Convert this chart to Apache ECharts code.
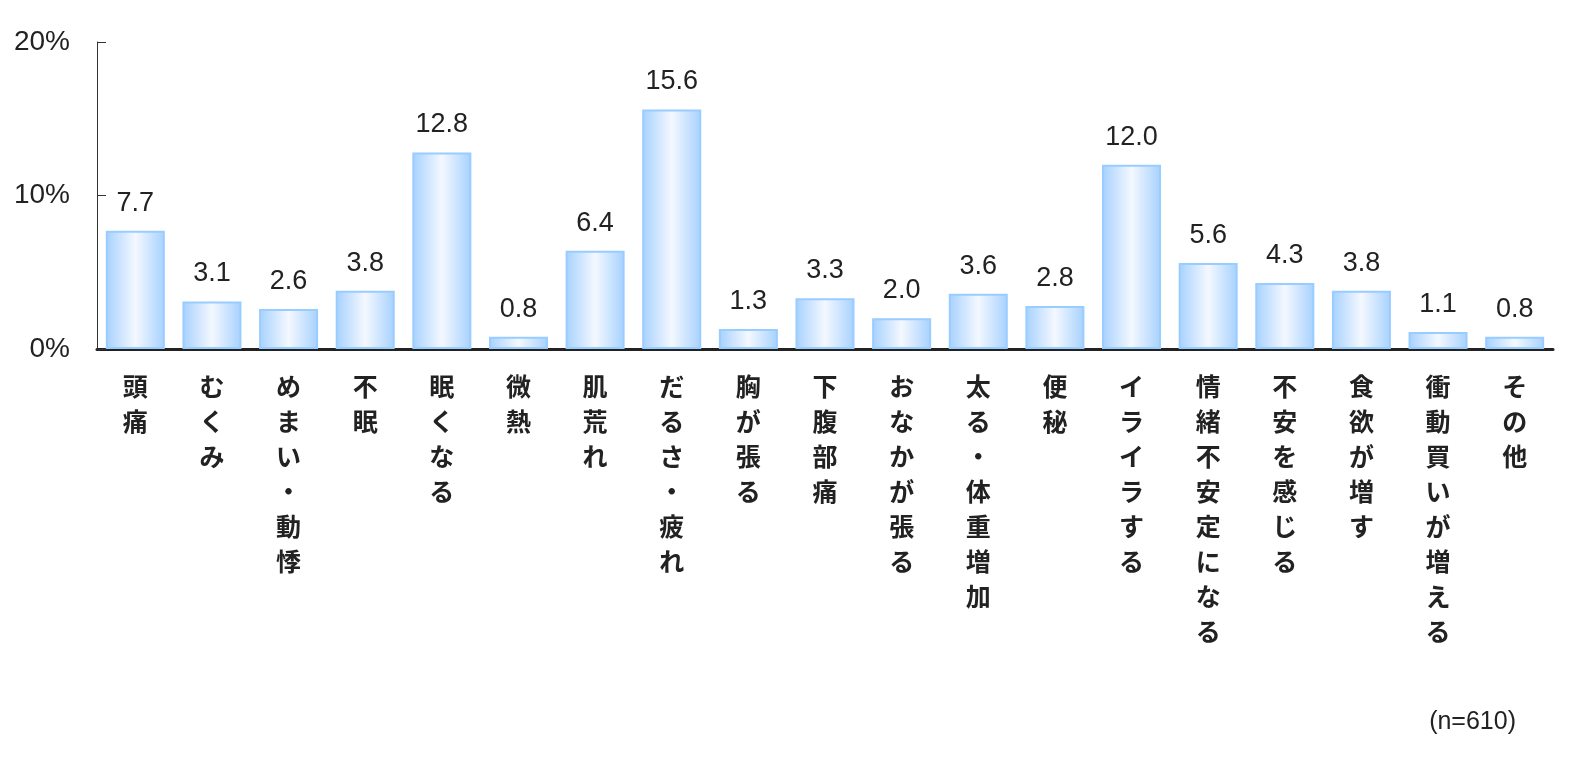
<!DOCTYPE html>
<html>
<head>
<meta charset="utf-8">
<script src="https://cdn.jsdelivr.net/npm/echarts@6/dist/echarts.min.js"></script>
<style>
  html, body { margin: 0; padding: 0; background: #fff; }
  #main { width: 1576px; height: 770px; }
</style>
</head>
<body>
<div id="main"></div>
<script>
// 症状の項目とパーセント (n=610)
var categories = ['頭痛', 'むくみ', 'めまい・動悸', '不眠', '眠くなる', '微熱', '肌荒れ', 'だるさ・疲れ',
  '胸が張る', '下腹部痛', 'おなかが張る', '太る・体重増加', '便秘', 'イライラする', '情緒不安定になる',
  '不安を感じる', '食欲が増す', '衝動買いが増える', 'その他'];
var values = [7.7, 3.1, 2.6, 3.8, 12.8, 0.8, 6.4, 15.6, 1.3, 3.3, 2.0, 3.6, 2.8, 12.0, 5.6, 4.3, 3.8, 1.1, 0.8];
var yTicks = [0, 10, 20];
var noteText = '(n=610)';

var chart = echarts.init(document.getElementById('main'));

var barFill = new echarts.graphic.LinearGradient(0, 0, 1, 0, [
  { offset: 0, color: '#a6d1ff' },
  { offset: 0.5, color: '#f4f8ff' },
  { offset: 1, color: '#a6d1ff' }
]);

chart.setOption({
  animation: false,
  textStyle: { fontFamily: 'Arial, "Liberation Sans", "Noto Sans CJK JP", sans-serif' },
  grid: { left: 97, right: 23, top: 42, bottom: 421 },
  graphic: [{
    type: 'text',
    right: 60,
    top: 710,
    style: { text: noteText, fontSize: 25, fill: '#222', fontFamily: 'Arial, "Liberation Sans", sans-serif' }
  }],
  xAxis: {
    type: 'category',
    data: categories,
    axisLine: { lineStyle: { color: '#222', width: 3 } },
    axisTick: { show: false },
    axisLabel: {
      interval: 0,
      margin: 20,
      color: '#222',
      fontSize: 25,
      fontWeight: 'bold',
      lineHeight: 35,
      verticalAlign: 'top',
      fontFamily: '"Noto Sans CJK JP", sans-serif',
      formatter: function (v) { return v.split('').join('\n'); }
    }
  },
  yAxis: {
    type: 'value',
    min: yTicks[0],
    max: yTicks[yTicks.length - 1],
    interval: yTicks[1] - yTicks[0],
    axisLine: { show: true, lineStyle: { color: '#333', width: 1 } },
    axisTick: { show: true, inside: true, length: 9, lineStyle: { color: '#333' } },
    splitLine: { show: false },
    axisLabel: {
      margin: 27,
      color: '#222',
      fontSize: 28,
      formatter: '{value}%'
    }
  },
  series: [{
    type: 'bar',
    data: values,
    barWidth: '77%',
    itemStyle: { color: barFill, borderColor: '#99ccff', borderWidth: 2 },
    label: {
      show: true,
      position: 'top',
      distance: 14,
      color: '#222',
      fontSize: 27,
      formatter: function (p) { return p.value.toFixed(1); }
    }
  }]
});
</script>
</body>
</html>
